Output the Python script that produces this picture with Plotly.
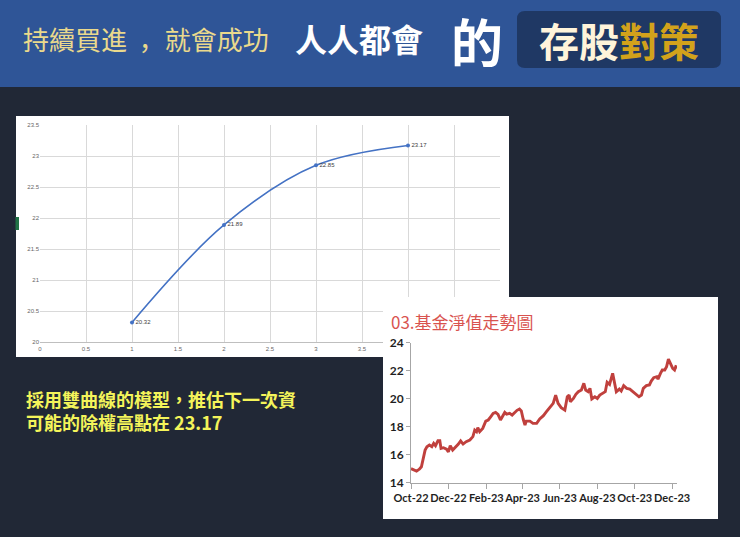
import plotly.graph_objects as go

W, H = 740, 537

# ---------------- data ----------------
# Chart 1: hyperbolic model estimate
model_x = [1, 2, 3, 4]
model_y = [20.32, 21.89, 22.85, 23.17]
model_labels = ["20.32", "21.89", "22.85", "23.17"]

# Chart 2: fund NAV trend
nav_dates = [
    "2022-10-01", "2022-10-04", "2022-10-07", "2022-10-10", "2022-10-13", "2022-10-15",
    "2022-10-18", "2022-10-21", "2022-10-24", "2022-10-27", "2022-10-31", "2022-11-04",
    "2022-11-07", "2022-11-10", "2022-11-14", "2022-11-17", "2022-11-19", "2022-11-23",
    "2022-11-28", "2022-12-01", "2022-12-04", "2022-12-08", "2022-12-12", "2022-12-17",
    "2022-12-21", "2022-12-25", "2022-12-30", "2023-01-05", "2023-01-10", "2023-01-13",
    "2023-01-16", "2023-01-18", "2023-01-21", "2023-01-26", "2023-01-31", "2023-02-04",
    "2023-02-08", "2023-02-12", "2023-02-16", "2023-02-20", "2023-02-24", "2023-02-27",
    "2023-03-03", "2023-03-06", "2023-03-11", "2023-03-15", "2023-03-19", "2023-03-23",
    "2023-03-27", "2023-03-30", "2023-04-02", "2023-04-05", "2023-04-07", "2023-04-13",
    "2023-04-18", "2023-04-24", "2023-04-29", "2023-05-05", "2023-05-10", "2023-05-15",
    "2023-05-21", "2023-05-25", "2023-05-29", "2023-06-03", "2023-06-09", "2023-06-13",
    "2023-06-16", "2023-06-18", "2023-06-23", "2023-06-27", "2023-07-01", "2023-07-06",
    "2023-07-10", "2023-07-13", "2023-07-17", "2023-07-20", "2023-07-23", "2023-07-28",
    "2023-08-01", "2023-08-05", "2023-08-09", "2023-08-14", "2023-08-17", "2023-08-21",
    "2023-08-26", "2023-08-29", "2023-09-01", "2023-09-06", "2023-09-09", "2023-09-13",
    "2023-09-18", "2023-09-23", "2023-09-28", "2023-10-04", "2023-10-08", "2023-10-12",
    "2023-10-15", "2023-10-20", "2023-10-25", "2023-10-28", "2023-11-01", "2023-11-06",
    "2023-11-08", "2023-11-12", "2023-11-15", "2023-11-19", "2023-11-22", "2023-11-25",
    "2023-11-28", "2023-12-02", "2023-12-05", "2023-12-07", "2023-12-10",
]
nav_values = [
    15.00, 14.95, 14.90, 14.83, 14.92, 14.98,
    15.14, 15.74, 16.33, 16.57, 16.69, 16.57,
    16.81, 16.64, 17.00, 17.00, 16.45, 16.50,
    16.40, 16.20, 16.64, 16.33, 16.50, 16.74,
    16.98, 16.76, 16.93, 17.05, 17.29, 17.76,
    17.64, 17.93, 17.64, 17.88, 18.40, 18.48,
    18.71, 18.95, 19.02, 18.88, 18.48, 18.71,
    19.02, 18.90, 18.95, 18.83, 19.02, 19.17,
    19.26, 19.12, 18.55, 18.12, 18.40, 18.40,
    18.24, 18.24, 18.55, 18.79, 19.07, 19.36,
    19.67, 20.26, 19.67, 19.36, 19.19, 20.14,
    20.26, 19.79, 20.02, 20.31, 20.50, 20.62,
    21.10, 20.62, 20.50, 20.74, 19.98, 20.14,
    20.02, 20.26, 20.38, 20.50, 21.17, 21.02,
    21.81, 21.10, 20.50, 20.69, 20.55, 20.93,
    20.74, 20.69, 20.50, 20.26, 20.14, 20.26,
    20.74, 20.93, 20.98, 21.26, 21.50, 21.57,
    21.40, 21.81, 22.05, 22.05, 22.29, 22.83,
    22.52, 22.17, 22.05, 22.29, 22.25,
]

header_left = "持續買進\u00a0\u00a0，就會成功"
header_mid = "人人都會"
header_de = "的"
header_box_a = "存股"
header_box_b = "對策"
chart2_title = "03.基金淨值走勢圖"
note_lines = ["採用雙曲線的模型，推估下一次資", "可能的除權高點在 23.17"]

# ---------------- helpers ----------------
def px(x):
    return x / W


def py(y):
    return 1 - y / H


CJK = "Noto Sans CJK TC"

fig = go.Figure()

# Chart 1 (x / y)
fig.add_trace(go.Scatter(
    x=model_x, y=model_y, text=model_labels,
    mode="lines+markers+text", textposition="middle right",
    textfont=dict(size=6, color="#404040", family="Liberation Sans"),
    line=dict(color="#4472C4", width=1.6, shape="spline", smoothing=1.0),
    marker=dict(color="#4472C4", size=4),
    xaxis="x", yaxis="y", hoverinfo="skip", showlegend=False,
))

# White backing panel for chart 2 (x2 / y2) drawn above chart 1
fig.add_trace(go.Heatmap(
    z=[[0]], colorscale=[[0, "white"], [1, "white"]], showscale=False,
    xaxis="x2", yaxis="y2", hoverinfo="skip",
))

# Chart 2 (x3 / y3)
fig.add_trace(go.Scatter(
    x=nav_dates, y=nav_values, mode="lines",
    line=dict(color="#C0403D", width=2.9),
    xaxis="x3", yaxis="y3", hoverinfo="skip", showlegend=False,
))

grid = "#D9D9D9"
tick1 = dict(size=6, color="#666666", family="Liberation Sans")
tick2 = dict(size=11, color="#1F1F1F", family="Lato", weight="bold")

shapes = [
    # header band
    dict(type="rect", xref="paper", yref="paper", x0=0, x1=1, y0=py(87), y1=1,
         fillcolor="#2F5597", line=dict(width=0), layer="below"),
    # rounded title box
    dict(type="path", xref="paper", yref="paper", layer="below",
         path=(f"M {px(525)} {py(11)} L {px(713)} {py(11)} "
               f"Q {px(721)} {py(11)} {px(721)} {py(19)} L {px(721)} {py(60)} "
               f"Q {px(721)} {py(68)} {px(713)} {py(68)} L {px(525)} {py(68)} "
               f"Q {px(517)} {py(68)} {px(517)} {py(60)} L {px(517)} {py(19)} "
               f"Q {px(517)} {py(11)} {px(525)} {py(11)} Z"),
         fillcolor="#1F3864", line=dict(width=0)),
    # chart 1 white panel
    dict(type="rect", xref="paper", yref="paper", x0=px(16), x1=px(509), y0=py(357), y1=py(116),
         fillcolor="white", line=dict(width=0), layer="below"),
    # little green excel marker
    dict(type="rect", xref="paper", yref="paper", x0=px(15.5), x1=px(19), y0=py(230), y1=py(217),
         fillcolor="#217346", line=dict(width=0), layer="below"),
]

annotations = [
    dict(text=header_left, x=px(21), y=py(38), xanchor="left", yanchor="middle",
         font=dict(size=26, color="#EAD98C", family="Noto Sans CJK SC")),
    dict(text=header_mid, x=px(293), y=py(38), xanchor="left", yanchor="middle",
         font=dict(size=32, color="white", family=CJK, weight="bold")),
    dict(text=header_de, x=px(449), y=py(41), xanchor="left", yanchor="middle",
         font=dict(size=52, color="white", family=CJK, weight="bold")),
    dict(text=(f"<span style='color:#FFF4DA'>{header_box_a}</span>"
               f"<span style='color:#D2A21B'>{header_box_b}</span>"),
         x=px(619), y=py(40), xanchor="center", yanchor="middle",
         font=dict(size=40, family=CJK, weight="bold")),
    dict(text=chart2_title, x=px(389), y=py(321), xanchor="left", yanchor="middle",
         font=dict(size=17, color="#D9534F", family=CJK)),
    dict(text="<br>".join(note_lines), x=px(24), y=py(410.5), xanchor="left",
         yanchor="middle", align="left",
         font=dict(size=18, color="#F4F45A", family=CJK, weight="bold")),
]
for a in annotations:
    a.update(xref="paper", yref="paper", showarrow=False)

fig.update_layout(
    width=W, height=H, margin=dict(l=0, r=0, t=0, b=0, pad=0), autosize=False,
    paper_bgcolor="#212836", plot_bgcolor="white",
    showlegend=False,
    shapes=shapes, annotations=annotations,
    xaxis=dict(domain=[px(40), px(500)], range=[0, 5], dtick=0.5, tick0=0,
               showgrid=True, gridcolor=grid, gridwidth=1, zeroline=False,
               showline=True, linecolor="#BFBFBF", ticks="", tickfont=tick1,
               anchor="y", fixedrange=True, automargin=False),
    yaxis=dict(domain=[py(342.3), py(125)], range=[20, 23.5], dtick=0.5, tick0=20,
               showgrid=True, gridcolor=grid, gridwidth=1, zeroline=False,
               showline=False, ticks="", tickfont=tick1, anchor="x", fixedrange=True,
               automargin=False),
    xaxis2=dict(domain=[px(383), px(718)], visible=False, anchor="y2", fixedrange=True),
    yaxis2=dict(domain=[py(519), py(297)], visible=False, anchor="x2", fixedrange=True),
    xaxis3=dict(domain=[px(411), px(677)], type="date",
                range=["2022-10-01", "2023-12-09"], tickformat="%b-%y",
                dtick="M2", tick0="2022-10-01", ticks="outside", ticklen=5,
                tickcolor="#A6A6A6", showline=True, linecolor="#A6A6A6",
                showgrid=False, zeroline=False, tickfont=tick2, tickangle=0,
                anchor="y3", fixedrange=True, automargin=False),
    yaxis3=dict(domain=[py(482.7), py(342.7)], range=[14, 24], dtick=2, tick0=14,
                ticks="outside", ticklen=4, tickcolor="#A6A6A6", showline=True,
                linecolor="#A6A6A6", showgrid=False, zeroline=False,
                tickfont=dict(size=12, color="#1F1F1F", family="Lato", weight="bold"),
                anchor="x3", fixedrange=True, automargin=False),
)

fig.write_html(
    "out.html",
    config={"responsive": False, "displayModeBar": False},
    post_script="document.body.style.margin='0';document.body.style.overflow='hidden';",
)
